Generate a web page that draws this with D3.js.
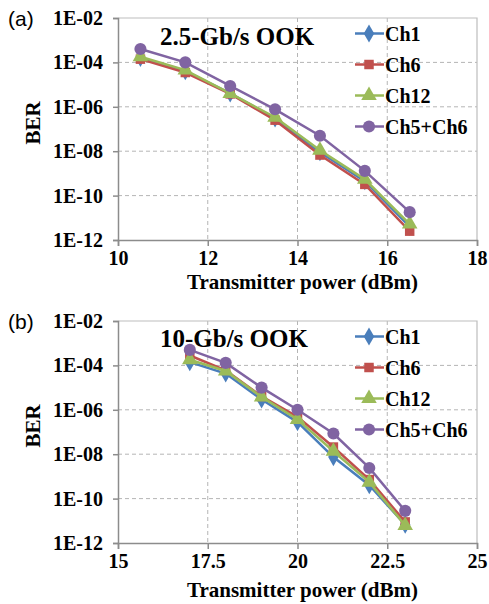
<!DOCTYPE html>
<html>
<head>
<meta charset="utf-8">
<script src="https://cdn.jsdelivr.net/npm/d3@7"></script>
<style>
  body { margin: 0; background: #fff; }
  svg { display: block; }
  .tick-label { font-family: "Liberation Serif", "Times New Roman", serif; font-weight: bold; font-size: 20px; fill: #000; }
  .axis-title { font-family: "Liberation Serif", "Times New Roman", serif; font-weight: bold; font-size: 21px; fill: #000; }
  .panel-title { font-family: "Liberation Serif", "Times New Roman", serif; font-weight: bold; font-size: 25px; fill: #000; }
  .legend-label { font-family: "Liberation Serif", "Times New Roman", serif; font-weight: bold; font-size: 20px; fill: #000; }
  .panel-tag { font-family: "Liberation Sans", Arial, sans-serif; font-size: 21px; fill: #000; }
</style>
</head>
<body>
<svg id="chart" width="489" height="604"></svg>
<script>
// Panel (a): 2.5-Gb/s
const powerA = [10.5, 11.5, 12.5, 13.5, 14.5, 15.5, 16.5];
const ch1A   = [1.6e-4, 4e-5, 4e-6, 3e-7, 9e-9, 4.5e-10, 4e-12];
const ch6A   = [1.4e-4, 3.5e-5, 3.8e-6, 2.5e-7, 6.7e-9, 3.2e-10, 2.5e-12];
const ch12A  = [1.8e-4, 4.5e-5, 4e-6, 3.4e-7, 1.1e-8, 5.4e-10, 5.2e-12];
const ch56A  = [4e-4, 1e-4, 8.7e-6, 7.7e-7, 5e-8, 1.3e-9, 1.8e-11];

// Panel (b): 10-Gb/s
const powerB = [17, 18, 19, 20, 21, 22, 23];
const ch1B   = [1.4e-4, 4.3e-5, 2.9e-6, 2.8e-7, 7.4e-9, 4e-10, 6.7e-12];
const ch6B   = [2.8e-4, 6e-5, 4e-6, 4.8e-7, 2.1e-8, 7.2e-10, 8.9e-12];
const ch12B  = [1.8e-4, 5.6e-5, 3.8e-6, 3.7e-7, 1.35e-8, 5.5e-10, 6.2e-12];
const ch56B  = [5e-4, 1.3e-4, 1e-5, 1e-6, 8.5e-8, 2.4e-9, 2.8e-11];

const seriesNames = ["Ch1", "Ch6", "Ch12", "Ch5+Ch6"];
const seriesColors = ["#4a7ebb", "#c0504d", "#9bbb59", "#8064a2"];
const seriesSymbols = [d3.symbolDiamond, d3.symbolSquare, d3.symbolTriangle, d3.symbolCircle];
const symbolSizes = [95, 90, 105, 115];

const yTicks = [1e-2, 1e-4, 1e-6, 1e-8, 1e-10, 1e-12];
const xTicksA = [10, 12, 14, 16, 18];
const xTicksB = [15, 17.5, 20, 22.5, 25];

const svg = d3.select("#chart");

function fmtBER(v) {
    const e = Math.round(Math.log10(v));
    return "1E-" + String(-e).padStart(2, "0");
}

function drawPanel(opts) {
    const { tag, title, power, series, xDomain, xTicks, top, bottom, titleOffset, xTitleOffset } = opts;
    const left = 118, right = 477;
    const x = d3.scaleLinear().domain(xDomain).range([left, right]);
    const y = d3.scaleLog().domain([1e-12, 1e-2]).range([bottom, top]);
    const g = svg.append("g");

    // grid
    g.selectAll(".hgrid").data(yTicks.slice(1, -1)).enter().append("line")
        .attr("x1", left).attr("x2", right)
        .attr("y1", d => y(d)).attr("y2", d => y(d))
        .attr("stroke", "#b5b5b5").attr("stroke-width", 1).attr("stroke-dasharray", "4,3");
    g.selectAll(".vgrid").data(xTicks.slice(1, -1)).enter().append("line")
        .attr("y1", top).attr("y2", bottom)
        .attr("x1", d => x(d)).attr("x2", d => x(d))
        .attr("stroke", "#b5b5b5").attr("stroke-width", 1).attr("stroke-dasharray", "4,3");

    // plot border (top/right light)
    g.append("path")
        .attr("d", `M${left},${top}H${right}V${bottom}`)
        .attr("fill", "none").attr("stroke", "#bdbdbd").attr("stroke-width", 1.2);

    // axes
    const yAxis = g.append("g").attr("transform", `translate(${left},0)`)
        .call(d3.axisLeft(y).tickValues(yTicks).tickFormat(fmtBER).tickSize(5).tickPadding(10));
    const xAxis = g.append("g").attr("transform", `translate(0,${bottom})`)
        .call(d3.axisBottom(x).tickValues(xTicks).tickFormat(d3.format("")).tickSize(6).tickPadding(5));
    [yAxis, xAxis].forEach(a => {
        a.select(".domain").attr("stroke", "#8c8c8c").attr("stroke-width", 1.5);
        a.selectAll(".tick line").attr("stroke", "#8c8c8c").attr("stroke-width", 1.5);
        a.selectAll(".tick text").attr("class", "tick-label").attr("font-size", null).attr("font-family", null);
    });

    // axis titles
    g.append("text").attr("class", "axis-title")
        .attr("x", (left + right) / 2 + 5).attr("y", bottom + xTitleOffset)
        .attr("text-anchor", "middle").text("Transmitter power (dBm)");
    g.append("text").attr("class", "axis-title")
        .attr("transform", `translate(40,${top + 105}) rotate(-90)`)
        .attr("text-anchor", "middle").text("BER");

    // panel tag and title
    g.append("text").attr("class", "panel-tag").attr("x", 8).attr("y", top + 8).text(tag);
    g.append("text").attr("class", "panel-title").attr("x", 160).attr("y", top + titleOffset).text(title);

    // series
    const line = d3.line().x(d => x(d[0])).y(d => y(d[1]));
    series.forEach((vals, i) => {
        const pts = power.map((p, j) => [p, vals[j]]);
        g.append("path").datum(pts)
            .attr("d", line).attr("fill", "none")
            .attr("stroke", seriesColors[i]).attr("stroke-width", 2.5);
        g.selectAll(".m" + i).data(pts).enter().append("path")
            .attr("transform", d => `translate(${x(d[0])},${y(d[1])})`)
            .attr("d", d3.symbol().type(seriesSymbols[i]).size(symbolSizes[i]))
            .attr("fill", seriesColors[i]);
    });

    // legend
    const lg = g.append("g");
    seriesNames.forEach((name, i) => {
        const ly = top + 15.5 + i * 31;
        lg.append("line").attr("x1", 355).attr("x2", 384).attr("y1", ly).attr("y2", ly)
            .attr("stroke", seriesColors[i]).attr("stroke-width", 2.5);
        lg.append("path").attr("transform", `translate(369,${ly})`)
            .attr("d", d3.symbol().type(seriesSymbols[i]).size(symbolSizes[i]))
            .attr("fill", seriesColors[i]);
        lg.append("text").attr("class", "legend-label").attr("x", 385).attr("y", ly + 7).text(name);
    });
}

drawPanel({
    tag: "(a)", title: "2.5-Gb/s OOK", power: powerA,
    series: [ch1A, ch6A, ch12A, ch56A],
    xDomain: [10, 18], xTicks: xTicksA, top: 18, bottom: 240,
    titleOffset: 27, xTitleOffset: 49
});
drawPanel({
    tag: "(b)", title: "10-Gb/s OOK", power: powerB,
    series: [ch1B, ch6B, ch12B, ch56B],
    xDomain: [15, 25], xTicks: xTicksB, top: 321, bottom: 543,
    titleOffset: 26, xTitleOffset: 54
});
</script>
</body>
</html>
